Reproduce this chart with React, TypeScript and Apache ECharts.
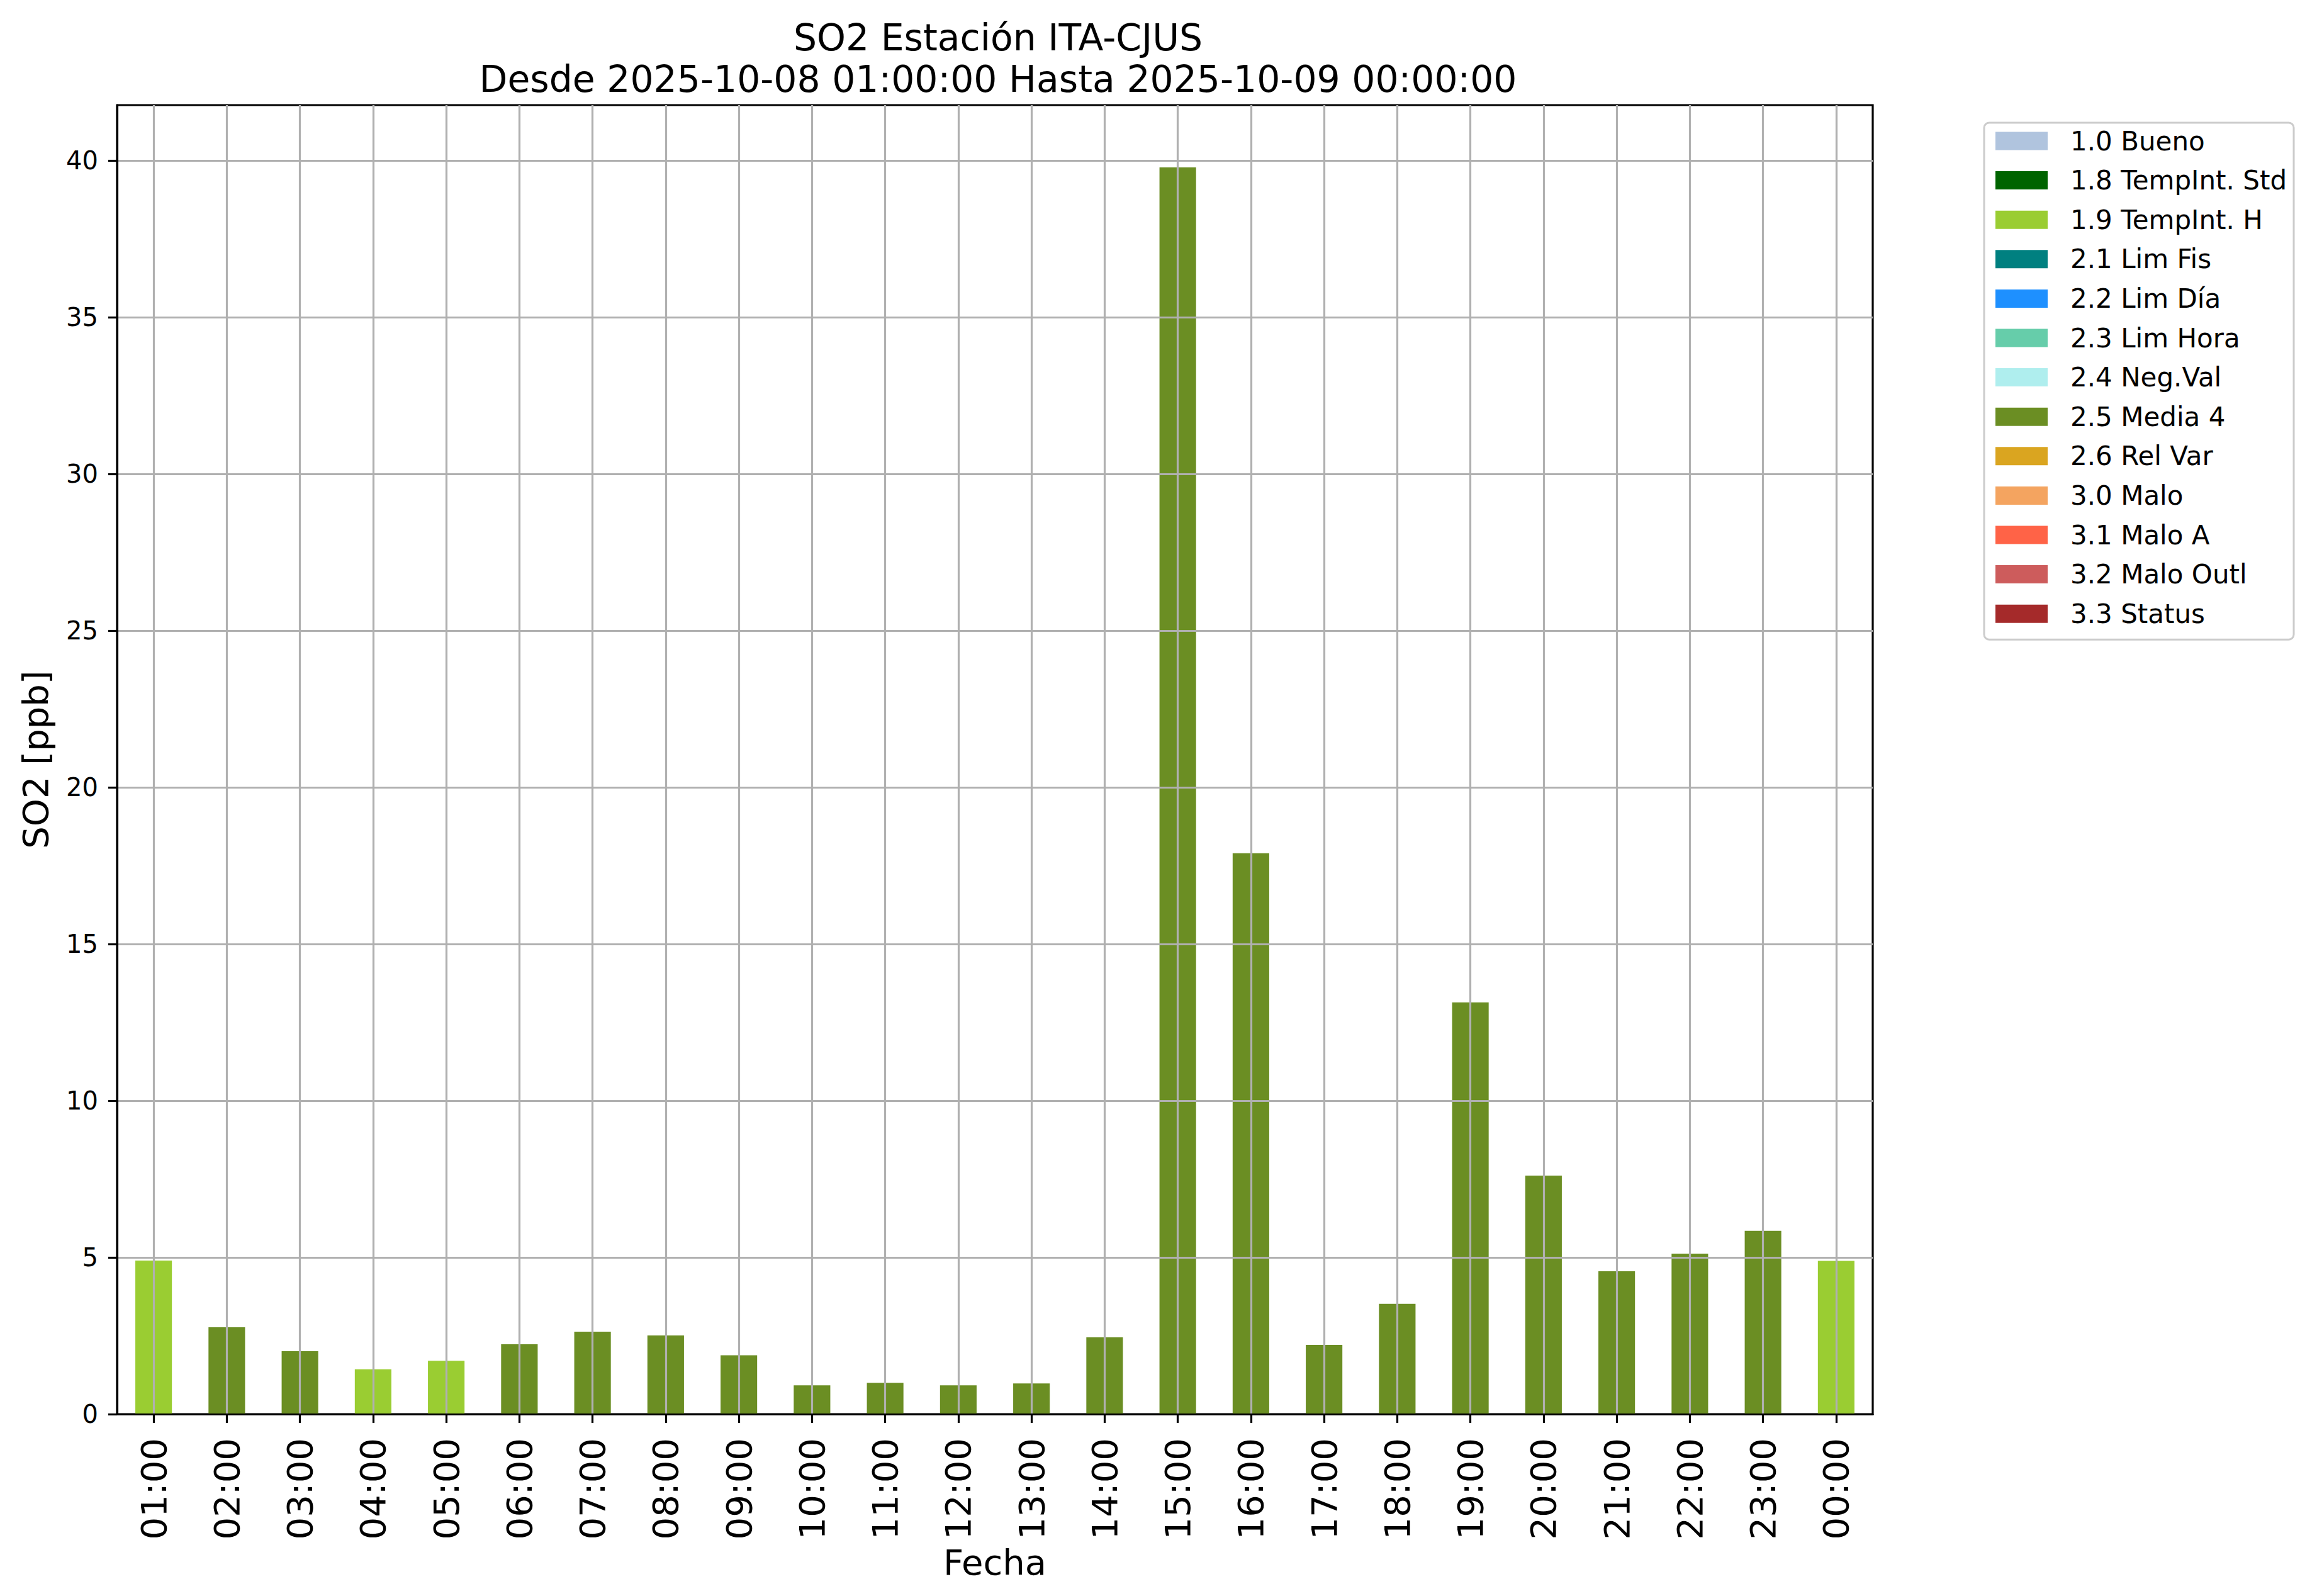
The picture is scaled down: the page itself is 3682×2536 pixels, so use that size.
import React, { useEffect, useRef } from "react";
import * as echarts from "echarts";

const hours = [
  "01:00", "02:00", "03:00", "04:00", "05:00", "06:00", "07:00", "08:00",
  "09:00", "10:00", "11:00", "12:00", "13:00", "14:00", "15:00", "16:00",
  "17:00", "18:00", "19:00", "20:00", "21:00", "22:00", "23:00", "00:00",
];

const so2Values = [
  4.9, 2.77, 2.01, 1.43, 1.7, 2.23, 2.63, 2.51, 1.88, 0.92, 1.0, 0.92,
  0.98, 2.45, 39.78, 17.9, 2.21, 3.52, 13.14, 7.61, 4.56, 5.12, 5.85, 4.89,
];

const valueFlags = [
  "1.9", "2.5", "2.5", "1.9", "1.9", "2.5", "2.5", "2.5", "2.5", "2.5", "2.5", "2.5",
  "2.5", "2.5", "2.5", "2.5", "2.5", "2.5", "2.5", "2.5", "2.5", "2.5", "2.5", "1.9",
];

const flagCodes = ["1.0", "1.8", "1.9", "2.1", "2.2", "2.3", "2.4", "2.5", "2.6", "3.0", "3.1", "3.2", "3.3"];
const flagNames = [
  "1.0 Bueno", "1.8 TempInt. Std", "1.9 TempInt. H", "2.1 Lim Fis", "2.2 Lim Día",
  "2.3 Lim Hora", "2.4 Neg.Val", "2.5 Media 4", "2.6 Rel Var", "3.0 Malo",
  "3.1 Malo A", "3.2 Malo Outl", "3.3 Status",
];
const flagColors = [
  "#b0c4de", "#006400", "#9acd32", "#008080", "#1e90ff", "#66cdaa", "#afeeee",
  "#6b8e23", "#daa520", "#f4a460", "#ff6347", "#cd5c5c", "#a52a2a",
];

const yTicks = [0, 5, 10, 15, 20, 25, 30, 35, 40];
const yMax = 41.77;

const FONT = "DejaVu Sans";

export default function App() {
  const ref = useRef<HTMLDivElement>(null);

  useEffect(() => {
    if (!ref.current) return;
    const chart = echarts.init(ref.current, null, { renderer: "svg" });

    const series = flagCodes.map((code, k) => ({
      type: "bar" as const,
      name: flagNames[k],
      stack: "total",
      barWidth: "50%",
      z: 2,
      itemStyle: { color: flagColors[k] },
      data: so2Values.map((v, i) => (valueFlags[i] === code ? v : "-")),
    }));

    chart.setOption({
      animation: false,
      backgroundColor: "#ffffff",
      textStyle: { fontFamily: FONT },
      title: {
        text: "SO2 Estación ITA-CJUS\nDesde 2025-10-08 01:00:00 Hasta 2025-10-09 00:00:00",
        left: 1581,
        top: 22,
        textAlign: "center",
        textStyle: {
          fontFamily: FONT,
          fontSize: 58.4,
          fontWeight: "normal",
          color: "#000",
          lineHeight: 66,
        },
      },
      legend: {
        data: flagNames,
        orient: "vertical",
        left: 3153,
        top: 195,
        icon: "rect",
        itemWidth: 83,
        itemHeight: 29,
        itemGap: 20.6,
        selectedMode: false,
        padding: [8, 11, 20, 18],
        borderColor: "#cccccc",
        borderWidth: 3,
        borderRadius: 8,
        backgroundColor: "#ffffff",
        textStyle: {
          fontFamily: FONT,
          fontSize: 42,
          color: "#000",
          lineHeight: 40,
          padding: [0, 0, 0, 31],
        },
      },
      grid: {
        left: 186,
        right: 706,
        top: 167,
        bottom: 289,
        show: true,
        borderColor: "#000",
        borderWidth: 3.2,
        backgroundColor: "transparent",
      },
      xAxis: {
        type: "category",
        data: hours,
        boundaryGap: true,
        z: 3,
        name: "Fecha",
        nameLocation: "middle",
        nameGap: 180,
        nameTextStyle: { fontFamily: FONT, fontSize: 56, color: "#000" },
        axisLine: { show: true, lineStyle: { color: "#000", width: 3.2 } },
        axisTick: {
          show: true,
          alignWithLabel: true,
          length: 14,
          lineStyle: { color: "#000", width: 3.2 },
        },
        axisLabel: {
          interval: 0,
          rotate: 90,
          margin: 38,
          fontFamily: FONT,
          fontSize: 56,
          color: "#000",
        },
        splitLine: {
          show: true,
          alignWithLabel: true,
          interval: 0,
          lineStyle: { color: "#b0b0b0", width: 3.2 },
        },
      },
      yAxis: {
        type: "value",
        min: 0,
        max: yMax,
        z: 3,
        name: "SO2 [ppb]",
        nameLocation: "middle",
        nameRotate: 90,
        nameGap: 102,
        nameTextStyle: { fontFamily: FONT, fontSize: 56, color: "#000" },
        axisLine: { show: true, lineStyle: { color: "#000", width: 3.2 } },
        axisTick: {
          show: true,
          length: 14,
          customValues: yTicks,
          lineStyle: { color: "#000", width: 3.2 },
        },
        axisLabel: {
          customValues: yTicks,
          margin: 30,
          fontFamily: FONT,
          fontSize: 40,
          color: "#000",
        },
        splitLine: {
          show: true,
          lineStyle: { color: "#b0b0b0", width: 3.2 },
        },
      },
      series,
    });

    return () => chart.dispose();
  }, []);

  return (
    <div
      ref={ref}
      style={{ position: "absolute", left: 0, top: 0, width: 3682, height: 2536, background: "#fff" }}
    />
  );
}
